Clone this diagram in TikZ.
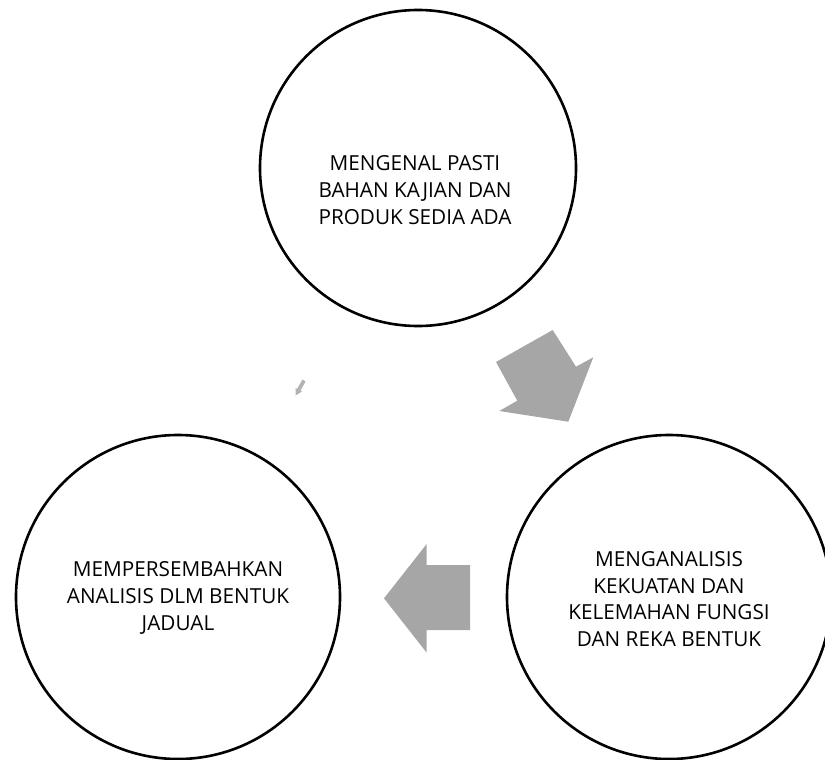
\documentclass[tikz,border=0pt]{standalone}
\usepackage{fontspec}
\setmainfont{Open Sans}
\begin{document}
\begin{tikzpicture}[x=1bp,y=-1bp,
  ring/.style={circle,draw=black,line width=2.6bp,inner sep=0pt},
  label/.style={align=center,font=\fontsize{20.8}{26.7}\selectfont,inner sep=0pt},
  block/.style={fill=black!35,draw=none}]
\useasboundingbox (0,0) rectangle (825,760);
\node[ring,minimum size=316bp] (c1) at (418,168) {};
\node[ring,minimum size=324bp] (c2) at (669,597) {};
\node[ring,minimum size=324bp] (c3) at (178,597) {};
\node[label] (t1) at (415,190) {MENGENAL PASTI\\BAHAN KAJIAN DAN\\PRODUK SEDIA ADA};
\node[label] (t2) at (669,599) {MENGANALISIS\\KEKUATAN DAN\\KELEMAHAN FUNGSI\\DAN REKA BENTUK};
\node[label] (t3) at (178,598) {MEMPERSEMBAHKAN\\ANALISIS DLM BENTUK\\JADUAL};
\fill[block] (496,362) -- (552.7,330) -- (576,366.7) -- (593.3,357.3) -- (568.3,421.7) -- (499.3,411) -- (517.3,400.7) -- cycle;
\fill[block] (384,598.3) -- (426.7,544) -- (426.7,565) -- (470,565) -- (470,630) -- (426.7,630) -- (426.7,652.7) -- cycle;
\fill[black!30] (302.5,379.5) -- (305.5,381.5) -- (300.5,390.5) -- (302,391.5) -- (295.5,395.5) -- (295.5,388) -- (297,389) -- cycle;
\end{tikzpicture}
\end{document}
